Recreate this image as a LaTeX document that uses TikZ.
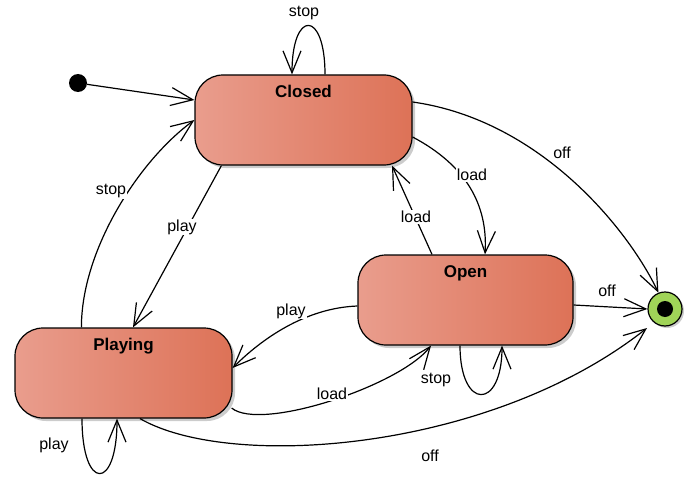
\documentclass[tikz,border=0pt]{standalone}
\usepackage{fontspec}
\setmainfont{Liberation Sans}
\usetikzlibrary{arrows.meta,shadows,calc}
\definecolor{stL}{RGB}{233,157,141}
\definecolor{stR}{RGB}{221,114,87}
\definecolor{finG}{RGB}{160,212,88}
\begin{document}
\begin{tikzpicture}[x=1pt,y=-1pt,
  state/.style={draw=black, line width=1.2pt, rounded corners=28pt,
    left color=stL, right color=stR,
    minimum width=217pt, minimum height=90pt,
    inner xsep=0pt, inner ysep=9.5pt, text height=12.5pt, text depth=58.5pt,
    font=\bfseries\fontsize{17}{20}\selectfont,
    drop shadow={shadow xshift=3pt, shadow yshift=-3pt, fill=black, opacity=0.2}},
  tr/.style={line width=1.2pt, -{Straight Barb[length=22pt,width=18pt]}},
  lbl/.style={fill=white, inner sep=1pt, font=\fontsize{16}{19}\selectfont}]
\useasboundingbox (0,0) rectangle (688,487);

\node[state] (closed) at (303.5,120) {Closed};
\node[state, minimum width=215pt] (open) at (465.5,300) {Open};
\node[state] (playing) at (123.5,373) {Playing};

\node[circle, fill=black, minimum size=18pt, inner sep=0pt] (init) at (78,83) {};
\node[circle, draw=black, line width=1.2pt, fill=finG, minimum size=34pt, inner sep=0pt,
  drop shadow={shadow xshift=2pt, shadow yshift=-2pt, fill=black, opacity=0.2}] (final) at (665,309) {};
\node[circle, fill=black, minimum size=16pt, inner sep=0pt] (finaldot) at (final) {};
\coordinate (finalin) at ($(final.center)+(-18,19)$);

% initial
\draw[tr] (init) -- ($(closed.west)+(0,-20)$);
% Closed self loop
\draw[tr] ($(closed.north)+(21.5,0)$) .. controls +(0,-65) and +(0,-65) .. ($(closed.north)+(-11.5,0)$);
% Closed -> Open
\draw[tr] ($(closed.east)+(0,17)$) .. controls +(53,28) and +(3,-50) .. ($(open.north)+(19.5,0)$);
% Open -> Closed
\draw[tr] ($(open.north)+(-33.5,0)$) -- ($(closed.south)+(88.5,0)$);
% Closed -> final
\draw[tr] ($(closed.east)+(0,-18)$) .. controls +(128,18) and +(-30,-63) .. (final.112);
% Closed -> Playing
\draw[tr] ($(closed.south west)+(27,0)$) -- ($(playing.north)+(9.5,0)$);
% Playing -> Closed
\draw[tr] ($(playing.north west)+(67,0)$) .. controls +(0,-78) and +(-55,40) .. (closed.west);
% Open -> Playing
\draw[tr] ($(open.west)+(0,6)$) .. controls +(-53,2) and +(28,-28) .. ($(playing.east)+(0,-5)$);
% Playing -> Open
\draw[tr] ($(playing.east)+(-1,35)$) .. controls +(29,24) and +(-31,40) .. ($(open.south)+(-34.5,0)$);
% Open self loop
\draw[tr] ($(open.south)+(-5.5,0)$) .. controls +(0,65) and +(0,65) .. ($(open.south)+(36.5,0)$);
% Open -> final
\draw[tr] ($(open.east)+(0,5)$) -- (final.west);
% Playing -> final
\draw[tr] ($(playing.south)+(16.5,0)$) .. controls +(90,52) and +(-157,124) .. (finalin);
% Playing self loop
\draw[tr] ($(playing.south)+(-41.5,0)$) .. controls +(0,73) and +(0,73) .. ($(playing.south)+(-6.5,0)$);

% labels
\node[lbl] (l1) at (304,13) {stop};
\node[lbl] (l2) at (472,175) {load};
\node[lbl] (l3) at (416,217) {load};
\node[lbl] (l4) at (562,153) {off};
\node[lbl] (l5) at (182,227) {play};
\node[lbl] (l6) at (111,191) {stop};
\node[lbl] (l7) at (291,311) {play};
\node[lbl] (l8) at (332,394) {load};
\node[lbl] (l9) at (436,380) {stop};
\node[lbl] (l10) at (607,291) {off};
\node[lbl] (l11) at (430,456) {off};
\node[lbl] (l12) at (54,445) {play};
\end{tikzpicture}
\end{document}
